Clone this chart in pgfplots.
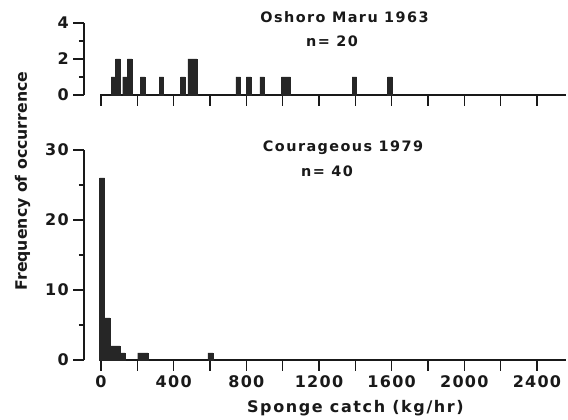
\documentclass[border=0pt]{standalone}
\usepackage{fontspec}
\setmainfont{DejaVu Sans}[LetterSpace=10]
\newfontfamily\tickfont{DejaVu Sans}[LetterSpace=8]
\newfontfamily\labfont{DejaVu Sans}
\usepackage{pgfplots}
\pgfplotsset{compat=1.18}

\pgfplotsset{
  sponge/.style={
    scale only axis,
    width=349.4pt,
    xmin=-5, xmax=2560,
    ymin=0,
    ybar,
    axis x line=bottom,
    axis y line=left,
    separate axis lines,
    axis y line shift=12pt,
    axis line style={-, line width=1pt, black!90},
    tick align=outside,
    tick style={line width=1pt, black!90},
    major tick length=8pt,
    minor tick length=4pt,
    xtick={0,200,...,2400},
    minor y tick num=1,
    tick label style={font=\tickfont\bfseries\fontsize{12}{14}\selectfont, text=black!90},
    /pgf/number format/assume math mode=true,
    enlargelimits=false,
    clip=false,
  }
}

\begin{document}
\begin{tikzpicture}
  \path[use as bounding box] (-75.1pt,-45pt) rectangle (350.9pt,270pt);

  % Courageous 1979
  \begin{axis}[
    sponge,
    at={(0pt,0pt)}, anchor=south west,
    height=157.5pt,
    ymax=30,
    ytick={0,10,20,30},
    xticklabels={0,,400,,800,,1200,,1600,,2000,,2400},
    ]
    \addplot[fill=black!85, draw=black!85, line width=0.3pt, bar width=28, bar shift=0pt] coordinates {
      (6,26) (34,6) (62,2) (90,2) (118,1)
      (216,1) (244,1) (602,1)
    };
    \node[font=\bfseries\fontsize{10.8}{13}\selectfont, text=black!90, anchor=base]
      at (axis description cs:0.5214,0.992) {Courageous 1979};
    \node[font=\bfseries\fontsize{10.8}{13}\selectfont, text=black!90, anchor=base]
      at (axis description cs:0.487,0.873) {n= 40};
    \node[font=\labfont\bfseries\fontsize{11.8}{14}\selectfont, text=black!90, rotate=90, anchor=base]
      at (axis description cs:-0.1575,0.852) {Frequency of occurrence};
    \node[font=\bfseries\fontsize{12}{14}\selectfont, text=black!90, anchor=base]
      at (axis description cs:0.548,-0.248) {Sponge catch (kg/hr)};
  \end{axis}

  % Oshoro Maru 1963
  \begin{axis}[
    sponge,
    at={(0pt,198.75pt)}, anchor=south west,
    height=54pt,
    ymax=4,
    ytick={0,2,4},
    xticklabels={},
    ]
    \addplot[fill=black!85, draw=black!85, line width=0.3pt, bar width=25, bar shift=0pt] coordinates {
      (68,1) (93,2) (132,1) (157,2) (229,1) (332,1) (451,1)
      (490,2) (515,2) (755,1) (812,1) (887,1) (1005,1) (1030,1)
      (1395,1) (1590,1)
    };
    \node[font=\bfseries\fontsize{10.8}{13}\selectfont, text=black!90, anchor=base]
      at (axis description cs:0.5246,1.0) {Oshoro Maru 1963};
    \node[font=\bfseries\fontsize{10.8}{13}\selectfont, text=black!90, anchor=base]
      at (axis description cs:0.4977,0.671) {n= 20};
  \end{axis}
\end{tikzpicture}
\end{document}
